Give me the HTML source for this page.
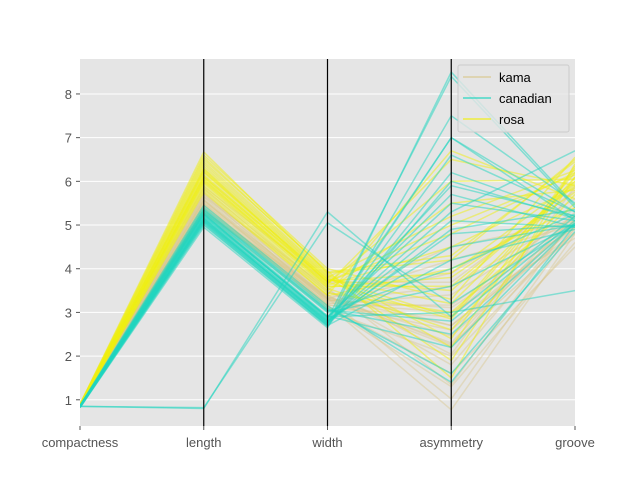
<!DOCTYPE html>
<html><head><meta charset="utf-8"><style>
body{margin:0;background:#fff;font-family:"Liberation Sans",sans-serif}
svg text{font-family:"Liberation Sans",sans-serif}
</style></head><body>
<svg id="chart" width="640" height="480">
<rect x="80" y="59" width="495" height="367" fill="#e5e5e5"/>
<g id="grid"></g><g id="lines" clip-path="url(#clip)"></g><g id="axes"></g><g id="legend"></g>
<defs><clipPath id="clip"><rect x="80" y="59" width="495" height="367"/></clipPath></defs>
</svg>
<script>
const dims=["compactness","length","width","asymmetry","groove"];
const yTicks=[1,2,3,4,5,6,7,8];
const classes=["kama","canadian","rosa"];
const kama=[[0.87,5.76,3.31,2.22,5.22],[0.88,5.55,3.33,1.02,4.96],[0.90,5.29,3.34,2.70,4.83],[0.90,5.32,3.38,2.26,4.81],[0.90,5.66,3.56,1.35,5.17],[0.89,5.39,3.31,2.46,4.96],[0.87,5.56,3.26,3.59,5.22],[0.88,5.71,3.46,2.70,5.00],[0.88,5.83,3.50,2.04,5.88],[0.89,5.88,3.69,3.69,5.79],[0.87,5.51,3.31,4.50,5.09],[0.85,5.34,3.16,3.17,5.10],[0.86,5.44,3.15,1.60,4.50],[0.86,5.58,3.17,0.77,4.80],[0.88,5.28,3.28,3.11,4.94],[0.89,5.58,3.35,2.30,5.30],[0.87,5.71,3.24,3.90,5.60],[0.86,5.48,3.09,2.90,5.40],[0.88,5.36,3.12,1.30,4.60],[0.87,5.62,3.30,4.20,5.00],[0.86,5.46,3.20,3.40,5.20],[0.85,5.26,3.05,2.00,4.90],[0.90,5.65,3.40,1.80,5.10],[0.88,5.50,3.22,3.00,4.70],[0.87,5.40,3.18,2.60,5.05]];
const rosa=[[0.88,6.28,3.69,2.85,6.10],[0.89,6.20,3.76,3.20,6.00],[0.90,6.67,3.90,4.20,6.50],[0.88,6.05,3.60,3.60,5.90],[0.87,5.90,3.50,5.50,5.80],[0.89,6.40,3.85,2.20,6.30],[0.88,6.10,3.70,4.80,6.20],[0.86,5.80,3.40,6.70,5.60],[0.89,6.50,3.95,1.50,6.40],[0.88,6.15,3.72,3.90,6.00],[0.87,5.95,3.55,2.60,5.70],[0.90,6.60,4.00,3.30,6.55],[0.88,6.00,3.62,4.50,5.85],[0.88,6.30,3.80,5.20,6.25],[0.87,5.85,3.45,3.00,5.50],[0.89,6.35,3.82,1.90,6.10],[0.88,6.08,3.66,6.00,6.05],[0.88,6.22,3.74,3.50,5.95],[0.87,5.75,3.38,4.00,5.40],[0.89,6.45,3.88,2.40,6.35],[0.88,6.12,3.70,5.00,6.15],[0.87,5.98,3.58,3.80,5.75],[0.88,6.25,3.77,2.90,6.20],[0.89,6.55,3.92,4.30,6.45],[0.88,6.03,3.64,6.50,5.90]];
const canadian=[[0.85,5.20,2.90,5.50,5.10],[0.84,5.10,2.80,4.80,5.00],[0.82,5.00,2.70,6.20,5.20],[0.86,5.30,3.00,3.60,5.00],[0.83,5.15,2.75,7.00,5.30],[0.85,5.25,2.85,8.40,5.40],[0.84,5.05,2.70,4.20,4.90],[0.86,5.35,3.05,2.80,5.10],[0.85,5.22,2.88,5.90,5.20],[0.82,4.95,2.65,7.50,5.50],[0.84,5.12,2.78,5.10,4.95],[0.85,5.28,2.92,2.20,5.05],[0.83,5.08,2.72,6.60,5.30],[0.86,5.40,3.10,1.60,4.85],[0.85,5.18,2.84,4.50,5.00],[0.84,5.14,2.80,5.30,6.70],[0.85,5.24,2.90,3.00,3.50],[0.83,5.02,2.68,6.00,5.15],[0.86,5.32,3.02,4.00,5.25],[0.84,5.16,2.82,7.00,5.10],[0.85,5.26,2.88,5.70,4.95],[0.87,5.45,3.15,1.40,5.00],[0.84,5.10,2.76,4.90,5.35],[0.85,0.80,5.30,2.90,5.20],[0.85,0.82,5.05,3.20,5.00],[0.83,5.06,2.74,8.50,5.45],[0.86,5.36,3.06,2.50,5.05]];
const NS="http://www.w3.org/2000/svg";
const X0=80,X1=575,yMin=0.4,yMax=8.8,PT=59,PB=426;
const xs=i=>X0+i*(X1-X0)/(dims.length-1);
const ys=v=>PB-(v-yMin)/(yMax-yMin)*(PB-PT);
const colors={kama:"#d9c88f",canadian:"#1fd6c0",rosa:"#f0ef10"};
const opac={kama:0.45,canadian:0.5,rosa:0.5};
function mk(t,a,p){const e=document.createElementNS(NS,t);for(const k in a)e.setAttribute(k,a[k]);p.appendChild(e);return e;}
const grid=document.getElementById('grid'),lines=document.getElementById('lines'),axes=document.getElementById('axes'),leg=document.getElementById('legend');
yTicks.forEach(t=>{
 const g=mk('line',{x1:X0,x2:X1,y1:ys(t),y2:ys(t),stroke:'#fff','stroke-width':1},grid);
 
 
 const tk=mk('line',{x1:X0-4,x2:X0,y1:ys(t),y2:ys(t),stroke:'#555'},axes);
 
 
 const tx=mk('text',{x:X0-8,y:ys(t)+5,'text-anchor':'end','font-size':13,fill:'#555'},axes);
 tx.textContent=t;
 
 
});
const sets={kama:kama,rosa:rosa,canadian:canadian};
["kama","rosa","canadian"].forEach(c=>{
 sets[c].forEach(r=>{
  const p=mk('polyline',{points:r.map((v,i)=>xs(i)+','+ys(v)).join(' '),fill:'none',stroke:colors[c],'stroke-opacity':opac[c],'stroke-width':1.5},lines);
  
  
 });
});
dims.forEach((d,i)=>{
 if(i>0&&i<dims.length-1){
  const l=mk('line',{x1:xs(i),x2:xs(i),y1:PT,y2:PB,stroke:'#000','stroke-width':1.2},axes);
  
  
 }
 const tk=mk('line',{x1:xs(i),x2:xs(i),y1:PB,y2:PB+4,stroke:'#555'},axes);
 
 
 const t=mk('text',{x:xs(i),y:PB+21,'text-anchor':'middle','font-size':13,fill:'#555'},axes);
 t.textContent=d;
 
 
});
const box=mk('rect',{x:458,y:65,width:111,height:67,fill:'#e5e5e5',stroke:'#ccc','fill-opacity':0.8,rx:2},leg);


classes.forEach((c,i)=>{
 const y=77+i*21;
 const l=mk('line',{x1:463,x2:491,y1:y,y2:y,stroke:colors[c],'stroke-opacity':0.6,'stroke-width':2},leg);
 
 
 const t=mk('text',{x:499,y:y+5,'font-size':13,fill:'#000'},leg);
 t.textContent=c;
 
 
});
</script>
</body></html>
